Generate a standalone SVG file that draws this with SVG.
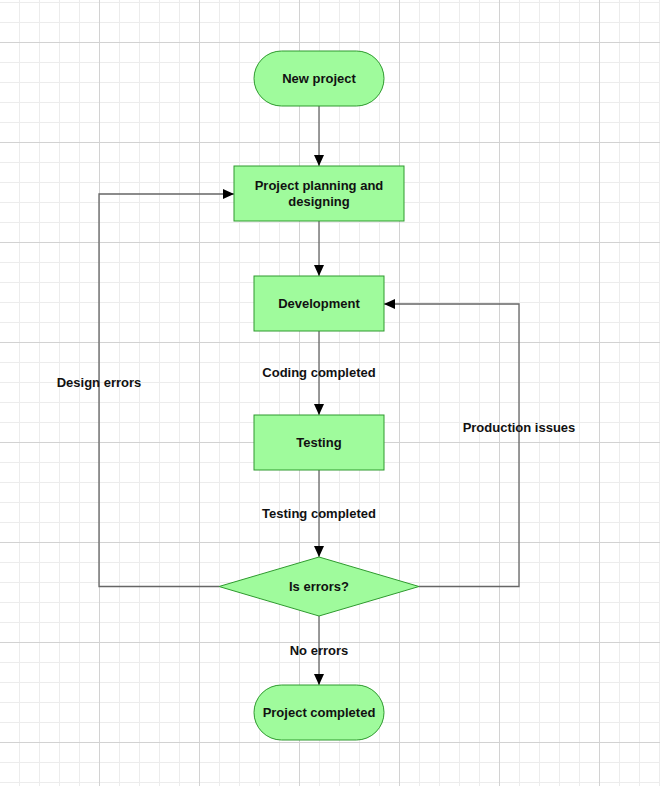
<svg xmlns="http://www.w3.org/2000/svg" width="660" height="786" viewBox="0 0 660 786">
<style>
.minor{stroke:#ececec;stroke-width:1;}
.major{stroke:#d2d2d2;stroke-width:1;}
.node{fill:#9ffb9c;stroke:#2e9a2e;stroke-width:1;}
.nt{font-family:"Liberation Sans",Arial,sans-serif;font-size:13px;font-weight:bold;fill:#111;text-anchor:middle;}
.conn{fill:none;stroke:#666;stroke-width:1.3;}
</style>
<defs>
<pattern id="gMinor" x="19" y="2" width="20" height="20" patternUnits="userSpaceOnUse">
<path d="M0.5,0 V20 M0,0.5 H20" class="minor"/>
</pattern>
<pattern id="gMajor" x="99" y="42" width="100" height="100" patternUnits="userSpaceOnUse">
<path d="M0.5,0 V100 M0,0.5 H100" class="major"/>
</pattern>
<marker id="arr" markerWidth="11" markerHeight="10" refX="11" refY="5" orient="auto" markerUnits="userSpaceOnUse">
<path d="M0,0 L11,5 L0,10 Z" fill="#000"/>
</marker>
</defs>
<rect x="0" y="0" width="660" height="786" fill="#fff"/>
<rect x="0" y="0" width="660" height="786" fill="url(#gMinor)"/>
<rect x="0" y="0" width="660" height="786" fill="url(#gMajor)"/>

<g id="connectors">
<path class="conn" d="M319,106 V166" marker-end="url(#arr)"/>
<path class="conn" d="M319,221 V276" marker-end="url(#arr)"/>
<path class="conn" d="M319,331 V415" marker-end="url(#arr)"/>
<path class="conn" d="M319,470 V557" marker-end="url(#arr)"/>
<path class="conn" d="M319,616 V685" marker-end="url(#arr)"/>
<path class="conn" d="M219,586.5 H99 V194 H234" marker-end="url(#arr)"/>
<path class="conn" d="M419,586.5 H519 V304 H384" marker-end="url(#arr)"/>
<text class="nt" x="319" y="377">Coding completed</text>
<text class="nt" x="319" y="518">Testing completed</text>
<text class="nt" x="319" y="655">No errors</text>
<text class="nt" x="99" y="387">Design errors</text>
<text class="nt" x="519" y="432">Production issues</text>
</g>

<g id="new-project">
<rect class="node" x="254" y="51" width="130" height="55" rx="27.5" ry="27.5"/>
<text class="nt" x="319" y="83">New project</text>
</g>
<g id="planning">
<rect class="node" x="234" y="166" width="170" height="55"/>
<text class="nt" x="319" y="190">Project planning and</text>
<text class="nt" x="319" y="206">designing</text>
</g>
<g id="development">
<rect class="node" x="254" y="276" width="130" height="55"/>
<text class="nt" x="319" y="308">Development</text>
</g>
<g id="testing">
<rect class="node" x="254" y="415" width="130" height="55"/>
<text class="nt" x="319" y="447">Testing</text>
</g>
<g id="decision">
<polygon class="node" points="319,557 419,586.5 319,616 219,586.5"/>
<text class="nt" x="319" y="591">Is errors?</text>
</g>
<g id="project-completed">
<rect class="node" x="254" y="685" width="130" height="55" rx="27.5" ry="27.5"/>
<text class="nt" x="319" y="717">Project completed</text>
</g>
</svg>
